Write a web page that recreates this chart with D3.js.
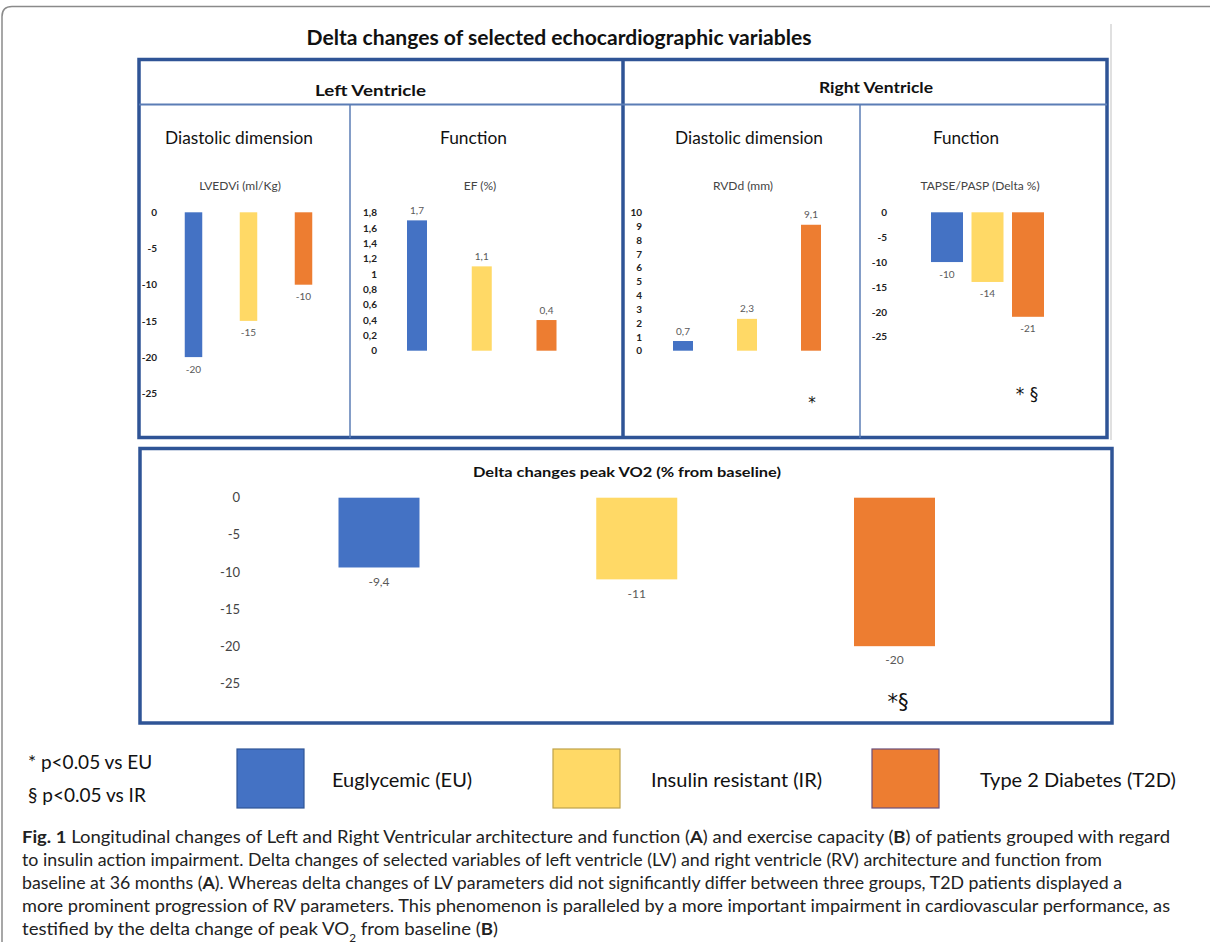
<!DOCTYPE html>
<html>
<head>
<meta charset="utf-8">
<script src="https://cdn.jsdelivr.net/npm/d3@7"></script>
<style>
  body { margin: 0; background: #fff; }
  svg { display: block; }
</style>
</head>
<body>
<div id="chart"></div>
<script>
const width = 1210;
const height = 942;

// groups
const groups = ["EU", "IR", "T2D"];
const groupNames = ["Euglycemic (EU)", "Insulin resistant (IR)", "Type 2 Diabetes (T2D)"];
const groupColors = ["#4472C4", "#FFD966", "#ED7D31"];

// series values (delta from baseline)
const lvedvi = [-20, -15, -10];
const ef = [1.7, 1.1, 0.4];
const rvdd = [0.7, 2.3, 9.1];
const tapsePasp = [-10, -14, -21];
const peakVo2 = [-9.4, -11, -20];

// tick labels
const ticksNeg = [0, -5, -10, -15, -20, -25];
const ticksEf = [0, 0.2, 0.4, 0.6, 0.8, 1, 1.2, 1.4, 1.6, 1.8];
const ticksRvdd = [0, 1, 2, 3, 4, 5, 6, 7, 8, 9, 10];

const boxBlue = "#2F5496";
const lineBlue = "#5B7DB5";
const comma = v => String(v).replace(".", ",");

const svg = d3.select("#chart")
  .append("svg")
  .attr("width", width)
  .attr("height", height);

function label(g, x, y, str, o = {}) {
  const t = g.append("text")
    .attr("x", x)
    .attr("y", y)
    .attr("dy", "0.35em")
    .attr("text-anchor", o.anchor || "middle")
    .style("font-family", o.font || "Lato, 'Open Sans', sans-serif")
    .style("font-size", (o.size || 12) + "px")
    .style("font-weight", o.weight || "normal")
    .style("fill", o.fill || "#111")
    .text(str);
  if (o.len) t.attr("textLength", o.len).attr("lengthAdjust", "spacingAndGlyphs");
  return t;
}

// outer figure frame
svg.append("path")
  .attr("d", "M1212,6.5 H12 Q2,6.5 2,16.5 V944")
  .attr("fill", "none")
  .attr("stroke", "#8a8a8a")
  .attr("stroke-width", 1.5);

// faint line at right of the top box
svg.append("line")
  .attr("x1", 1111).attr("x2", 1111)
  .attr("y1", 24).attr("y2", 440)
  .attr("stroke", "#d6d6d6").attr("stroke-width", 1.5);

label(svg, 559, 38, "Delta changes of selected echocardiographic variables",
  { size: 20, weight: "bold", len: 505 });

// ---- Panel A frame
const panelA = svg.append("g");
panelA.append("rect")
  .attr("x", 139).attr("y", 59.5)
  .attr("width", 968).attr("height", 378)
  .attr("fill", "none").attr("stroke", boxBlue).attr("stroke-width", 3.5);
panelA.append("line").attr("x1", 623).attr("x2", 623).attr("y1", 59).attr("y2", 438)
  .attr("stroke", boxBlue).attr("stroke-width", 3.5);
panelA.append("line").attr("x1", 139).attr("x2", 1107).attr("y1", 104.5).attr("y2", 104.5)
  .attr("stroke", lineBlue).attr("stroke-width", 1.8);
panelA.append("line").attr("x1", 350).attr("x2", 350).attr("y1", 104.5).attr("y2", 438)
  .attr("stroke", lineBlue).attr("stroke-width", 1.5);
panelA.append("line").attr("x1", 860).attr("x2", 860).attr("y1", 104.5).attr("y2", 438)
  .attr("stroke", lineBlue).attr("stroke-width", 1.5);

label(panelA, 370.5, 90, "Left Ventricle", { size: 16, weight: "bold", len: 111 });
label(panelA, 876, 87, "Right Ventricle", { size: 16, weight: "bold", len: 114 });
label(panelA, 239, 138, "Diastolic dimension", { size: 17, len: 148 });
label(panelA, 473.5, 138, "Function", { size: 17, len: 67 });
label(panelA, 749, 138, "Diastolic dimension", { size: 17, len: 148 });
label(panelA, 966, 138, "Function", { size: 17, len: 66 });

// ---- bar panels
const panels = [
  { title: "LVEDVi (ml/Kg)", tx: 240, values: lvedvi, ticks: ticksNeg, domain: [0, -25], range: [212.3, 393.3],
    axisX: 157, first: 193.5, step: 55, bar: 17.5, tickSize: 10, valSize: 10, valGap: 12 },
  { title: "EF (%)", tx: 480, values: ef, ticks: ticksEf, domain: [0, 1.8], range: [350.7, 212.7],
    axisX: 377, first: 417, step: 64.75, bar: 20, tickSize: 10, valSize: 10, valGap: 10 },
  { title: "RVDd (mm)", tx: 743, values: rvdd, ticks: ticksRvdd, domain: [0, 10], range: [350.7, 212.3],
    axisX: 642, first: 683, step: 64, bar: 20, tickSize: 10, valSize: 10, valGap: 10,
    mark: { text: "*", x: 812, y: 403, size: 15 } },
  { title: "TAPSE/PASP (Delta %)", tx: 980, values: tapsePasp, ticks: ticksNeg, domain: [0, -25], range: [212.3, 336.7],
    axisX: 887, first: 947, step: 40.5, bar: 32, tickSize: 10, valSize: 10, valGap: 12,
    mark: { text: "* §", x: 1027, y: 394, size: 17 } },
  { values: peakVo2, ticks: ticksNeg, domain: [0, -25], range: [497.7, 683.3],
    axisX: 240, first: 379, step: 257.75, bar: 81, tickSize: 13, tickWeight: "normal", tickFill: "#444",
    valSize: 12, valGap: 14, mark: { text: "*§", x: 898, y: 702, size: 21 } }
];

// ---- Panel B frame
svg.append("rect")
  .attr("x", 140).attr("y", 448.5)
  .attr("width", 972).attr("height", 274.5)
  .attr("fill", "none").attr("stroke", boxBlue).attr("stroke-width", 3.5);
label(svg, 627, 472, "Delta changes peak VO2  (% from baseline)", { size: 14, weight: "bold", len: 308 });

panels.forEach(p => {
  const g = svg.append("g");
  if (p.title) label(g, p.tx, 186, p.title, { size: 12, fill: "#444" });

  const x = d3.scaleBand()
    .domain(groups)
    .range([p.first - p.step / 2, p.first + p.step * 2.5])
    .paddingInner(1 - p.bar / p.step)
    .paddingOuter((1 - p.bar / p.step) / 2);

  const y = d3.scaleLinear()
    .domain(p.domain)
    .range(p.range);

  const axis = g.append("g")
    .attr("transform", `translate(${p.axisX},0)`)
    .call(d3.axisLeft(y).tickValues(p.ticks).tickSize(0).tickPadding(0).tickFormat(comma));
  axis.select(".domain").remove();
  axis.selectAll("text")
    .style("font-family", "Lato, sans-serif")
    .style("font-size", p.tickSize + "px")
    .style("font-weight", p.tickWeight || "bold")
    .style("fill", p.tickFill || "#222");

  const data = groups.map((k, i) => ({ k, v: p.values[i], c: groupColors[i] }));

  g.selectAll("rect")
    .data(data)
    .enter()
    .append("rect")
    .attr("x", d => x(d.k))
    .attr("y", d => y(Math.max(0, d.v)))
    .attr("width", x.bandwidth())
    .attr("height", d => Math.abs(y(d.v) - y(0)))
    .attr("fill", d => d.c);

  g.selectAll(".val")
    .data(data)
    .enter()
    .append("text")
    .attr("class", "val")
    .attr("x", d => x(d.k) + x.bandwidth() / 2)
    .attr("y", d => y(d.v) + (d.v < 0 ? p.valGap : -p.valGap))
    .attr("dy", "0.35em")
    .attr("text-anchor", "middle")
    .style("font-family", "Lato, sans-serif")
    .style("font-size", p.valSize + "px")
    .style("fill", "#595959")
    .text(d => comma(d.v));

  if (p.mark) label(g, p.mark.x, p.mark.y, p.mark.text,
    { size: p.mark.size, font: "'DejaVu Sans', sans-serif", fill: "#111" });
});

// ---- legend
const notes = ["* p<0.05 vs EU", "§ p<0.05 vs IR"];
notes.forEach((n, i) => label(svg, 28, 762 + i * 33, n, { size: 19, anchor: "start", fill: "#111" }));

const legendX = [237, 553, 872];
const legendTextX = [332, 651, 980];
const legend = svg.append("g");
groups.forEach((k, i) => {
  legend.append("rect")
    .attr("x", legendX[i]).attr("y", 749)
    .attr("width", 67).attr("height", 59)
    .attr("fill", groupColors[i])
    .attr("stroke", i === 0 ? "#2F5597" : i === 1 ? "#BFA24A" : "#6B4F7A")
    .attr("stroke-width", 1.2);
  label(legend, legendTextX[i], 780, groupNames[i], { size: 20, anchor: "start", fill: "#111" });
});

// ---- caption
const caption = [
  [["Fig. 1", true], ["  Longitudinal changes of Left and Right Ventricular architecture and function (", false], ["A", true], [") and exercise capacity (", false], ["B", true], [") of patients grouped with regard", false]],
  [["to insulin action impairment. Delta changes of selected variables of left ventricle (LV) and right ventricle (RV) architecture and function from", false]],
  [["baseline at 36 months (", false], ["A", true], ["). Whereas delta changes of LV parameters did not significantly differ between three groups, T2D patients displayed a", false]],
  [["more prominent progression of RV parameters. This phenomenon is paralleled by a more important impairment in cardiovascular performance, as", false]],
  [["testified by the delta change of peak VO", false], ["2", false, true], [" from baseline (", false], ["B", true], [")", false]]
];
const captionLen = [1148, 1080, 1100, 1148, 476];
const cap = svg.append("g");
caption.forEach((segs, i) => {
  const t = cap.append("text")
    .attr("x", 22)
    .attr("y", 843 + i * 23)
    .style("font-family", "Lato, sans-serif")
    .style("font-size", "17.5px")
    .style("fill", "#222")
    .attr("textLength", captionLen[i])
    .attr("lengthAdjust", "spacingAndGlyphs");
  segs.forEach(([s, b, sub]) => {
    const ts = t.append("tspan").text(s).style("font-weight", b ? "bold" : "normal");
    if (sub) ts.attr("baseline-shift", "sub").style("font-size", "11px");
  });
});
</script>
</body>
</html>
